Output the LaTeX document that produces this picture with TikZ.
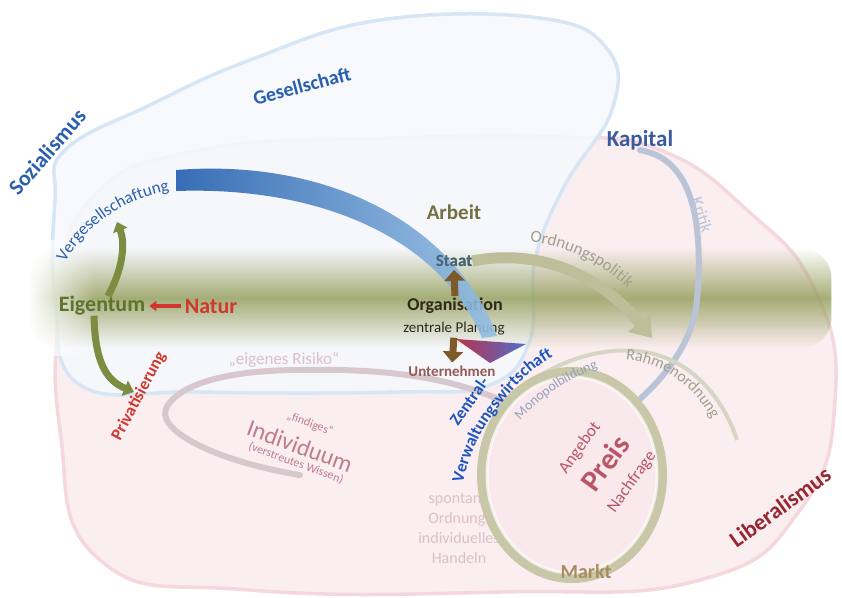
\documentclass[tikz,border=0pt]{standalone}
\usepackage{fontspec}
\setmainfont{Carlito}
\usetikzlibrary{arrows.meta,decorations.text,fadings}

\definecolor{sozblue}{RGB}{40,95,175}
\definecolor{kapblue}{RGB}{60,90,160}
\definecolor{zvwblue}{RGB}{30,85,190}
\definecolor{olivetext}{RGB}{115,112,65}
\definecolor{staatblue}{RGB}{70,100,115}
\definecolor{orgdark}{RGB}{45,40,25}
\definecolor{unternred}{RGB}{150,90,85}
\definecolor{eigengreen}{RGB}{95,115,45}
\definecolor{arcgreen}{RGB}{125,140,65}
\definecolor{naturred}{RGB}{210,55,45}
\definecolor{libred}{RGB}{150,40,50}
\definecolor{brownarrow}{RGB}{125,90,40}
\definecolor{bandgreen}{RGB}{150,160,95}
\definecolor{pinkfill}{RGB}{251,238,241}
\definecolor{pinkedge}{RGB}{244,216,222}
\definecolor{bluefill}{RGB}{246,249,253}
\definecolor{blueedge}{RGB}{214,230,245}
\definecolor{greyline}{RGB}{214,200,205}
\definecolor{kritikline}{RGB}{186,196,214}
\definecolor{ordgrey}{RGB}{190,190,155}
\definecolor{ordtext}{RGB}{160,160,140}
\definecolor{ringgrey}{RGB}{214,214,196}
\definecolor{marktring}{RGB}{200,200,168}
\definecolor{marktfill}{RGB}{249,232,236}
\definecolor{preisred}{RGB}{185,85,100}
\definecolor{paletext}{RGB}{218,192,200}
\definecolor{indivred}{RGB}{190,125,135}
\definecolor{markttext}{RGB}{170,140,100}
\definecolor{monoblue}{RGB}{150,160,185}
\definecolor{vgdark}{RGB}{35,95,175}
\definecolor{vglight}{RGB}{150,192,228}
\definecolor{headred}{RGB}{185,50,75}
\definecolor{headblue}{RGB}{80,110,205}

\newcommand{\setsz}[1]{\fontsize{#1}{#1}\selectfont}

\tikzfading[name=bandfade, top color=transparent!100, bottom color=transparent!100, middle color=transparent!15]

\begin{document}
\begin{tikzpicture}[x=1pt, y=-1pt,
    boldword/.style={font=\bfseries\setsz{#1}, inner sep=0pt},
    thinword/.style={font=\setsz{#1}, inner sep=0pt},
    blob/.style={line width=3.5pt, line join=round},
    swoosh/.style={line width=6pt, line cap=round},
    curved/.style={decorate, decoration={text along path, text align=center}}
]
    \useasboundingbox (0,0) rectangle (842,597);
    \fill[white] (0,0) rectangle (842,597);

    % Liberalismus area and Sozialismus area
    \draw[blob, pinkedge, fill=pinkfill] plot[smooth cycle, tension=0.8] coordinates {(62,300) (90,200) (200,150) (400,138) (560,137) (660,150) (747,210) (815,290) (835,400) (800,510) (700,580) (500,592) (250,590) (100,560) (60,430)};
    \draw[blob, blueedge, fill=bluefill, fill opacity=0.85] plot[smooth cycle, tension=0.7] coordinates {(55,200) (65,150) (150,105) (250,60) (380,20) (540,18) (608,50) (612,110) (565,185) (535,260) (530,340) (490,385) (400,392) (200,392) (80,385) (55,300)};

    % green band, soft ends
    \fill[bandgreen, path fading=bandfade, rounded corners=30pt] (30,248) rectangle (832,348);
    \fill[white, path fading=east] (28,240) rectangle (95,356);

    % text nodes
    \node[boldword=22, text=sozblue, rotate=49] (sozialismus) at (47,152) {Sozialismus};
    \node[boldword=20, text=sozblue, rotate=15] (gesellschaft) at (302,86) {Gesellschaft};
    \node[boldword=23, text=kapblue] (kapital) at (640,140) {Kapital};
    \node[boldword=21, text=olivetext] (arbeit) at (454,212) {Arbeit};
    \node[boldword=18, text=orgdark] (organisation) at (455,306) {Organisation};
    \node[thinword=15, text=orgdark] (planung) at (454,329) {zentrale Planung};
    \node[boldword=22, text=eigengreen] (eigentum) at (102,306) {Eigentum};
    \node[boldword=22, text=naturred] (natur) at (211,306) {Natur};
    \node[thinword=17, text=kritikline, rotate=-72] (kritik) at (702,215) {Kritik};
    \node[font={\fontsize{16}{20}\selectfont}, text=paletext, align=center, inner sep=0pt] (spontan) at (459,528) {spontane\\Ordnung:\\individuelles\\Handeln};

    % Kapital arc, rings and loops
    \coordinate (kritikend) at (623,413);
    \draw[swoosh, kritikline] (kapital.south) .. controls (700,160) and (702,240) .. (697,300) .. controls (693,345) and (660,385) .. (kritikend);
    \coordinate (loopend) at (545,425);
    \draw[swoosh, greyline] (300,475) .. controls (220,462) and (150,430) .. (168,405) .. controls (185,380) and (240,370) .. (300,370) .. controls (400,368) and (480,380) .. (loopend);
    \draw[line width=4pt, ringgrey] (498,408) .. controls (545,362) and (600,345) .. (645,352) .. controls (690,360) and (722,395) .. (737,440);

    % Markt circle
    \fill[marktfill] (572,475) ellipse [x radius=90, y radius=103];
    \draw[marktring, line width=10pt] (572,475) ellipse [x radius=90, y radius=103];
    \draw[white, line width=3pt, opacity=0.7] (572,475) ellipse [x radius=85, y radius=98];

    % Ordnungspolitik
    \node[boldword=17, text=staatblue] (staat) at (454,261) {Staat};
    \draw[ordgrey, line width=11pt, -{Triangle[width=28pt,length=20pt]}] (staat.east) .. controls (540,248) and (600,275) .. (652,338);
    \path[curved, decoration={text color=ordtext, text={|\setsz{17}|Ordnungspolitik}}] (516,241) .. controls (560,242) and (607,263) .. (637,299);
    \path[curved, decoration={text color=ordtext, text={|\setsz{16}|Rahmenordnung}}] (610,360) .. controls (655,356) and (700,385) .. (718,434);
    \path[curved, decoration={text color=monoblue, text={|\setsz{14}|Monopolbildung}}] (513,428) .. controls (535,402) and (565,378) .. (608,365);

    % Vergesellschaftung -> Zentralverwaltungswirtschaft
    \shade[left color=vgdark, right color=vglight, fill opacity=0.9] (176,170) .. controls (330,158) and (455,225) .. (497,336) -- (482,338) .. controls (440,238) and (320,186) .. (176,191) -- cycle;
    \shade[left color=headred, right color=headblue] (456,339) -- (526,344) -- (490,363) -- cycle;
    \node[boldword=17, text=staatblue] (staatlabel) at (staat) {Staat};
    \path[curved, decoration={text color=sozblue, text={|\setsz{17}|Vergesellschaftung}}] (64,265) .. controls (82,230) and (118,200) .. (172,190);
    \node[boldword=17, text=zvwblue, rotate=55] (zentral) at (469,401) {Zentral-};
    \path[curved, decoration={text color=zvwblue, text={|\bfseries\setsz{17}|Verwaltungswirtschaft}}] (463,482) .. controls (470,455) and (480,430) .. (494,414) .. controls (510,390) and (530,370) .. (552,357);
    \node[boldword=15, text=unternred] (unternehmen) at (452,371) {Unternehmen};

    % Staat - Organisation - Unternehmen
    \draw[brownarrow, line width=7pt, -{Triangle[width=20pt,length=11pt]}, shorten <=2pt, shorten >=3pt] (organisation.north) -- (staatlabel.south);
    \draw[brownarrow, line width=7pt, -{Triangle[width=20pt,length=11pt]}, shorten <=2pt, shorten >=3pt] (planung.south) -- (unternehmen.north);

    % Eigentum arcs
    \coordinate (vergtop) at (117,222);
    \coordinate (privtip) at (134,392);
    \draw[arcgreen, line width=7pt, -{Triangle[width=15pt,length=9pt]}] ([xshift=6pt]eigentum.north) .. controls (122,270) and (126,245) .. (vergtop);
    \draw[arcgreen, line width=7pt, -{Triangle[width=16pt,length=10pt]}] ([xshift=-8pt]eigentum.south) .. controls (95,360) and (105,380) .. (privtip);
    \draw[naturred, line width=4pt, -{Triangle[width=10pt,length=7pt]}, shorten <=4pt, shorten >=4pt] (natur.west) -- (eigentum.east);
    \node[boldword=17, text=naturred, rotate=62] (privat) at (139,396) {Privatisierung};

    % Individuum side
    \node[thinword=17, text=paletext] (risiko) at (284,360) {„eigenes Risiko“};
    \node[thinword=12, text=indivred, rotate=-20] (findig) at (310,424) {„findiges“};
    \node[thinword=24, text=indivred, rotate=-20] (individuum) at (300,446) {Individuum};
    \node[thinword=12, text=indivred, rotate=-20] (wissen) at (296,463) {(verstreutes Wissen)};

    % Markt
    \node[thinword=17, text=preisred, rotate=54] (angebot) at (580,448) {Angebot};
    \node[boldword=30, text=preisred, rotate=54] (preis) at (605,463) {Preis};
    \node[thinword=17, text=preisred, rotate=54] (nachfrage) at (632,482) {Nachfrage};
    \node[boldword=20, text=markttext] (markt) at (586,572) {Markt};
    \node[boldword=23, text=libred, rotate=36] (liberalismus) at (780,507) {Liberalismus};
\end{tikzpicture}
\end{document}
